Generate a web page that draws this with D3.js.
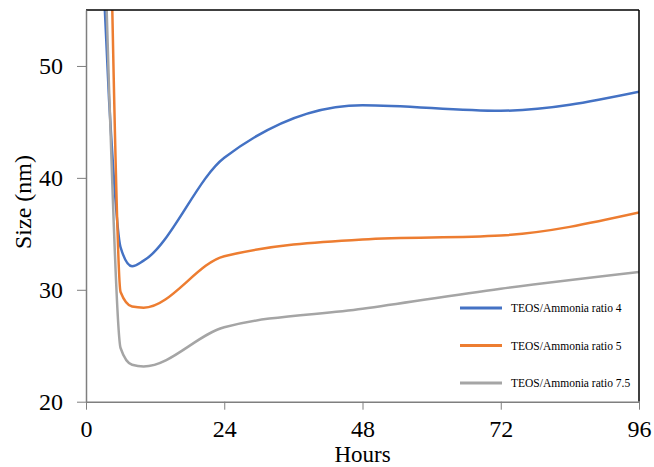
<!DOCTYPE html>
<html>
<head>
<meta charset="utf-8">
<script src="https://cdn.jsdelivr.net/npm/d3@7"></script>
<style>
  body { margin: 0; background: #fff; }
  svg { display: block; }
  text { font-family: "Liberation Serif", "Times New Roman", serif; fill: #000; }
</style>
</head>
<body>
<svg id="chart" width="654" height="467"></svg>
<script>
// Particle size over time for three TEOS/Ammonia ratios
const hours = [2, 4, 6, 8, 10, 24, 48, 72, 96];
const ratio4 = [69, 47, 33.8, 32.1, 32.6, 41.8, 46.5, 46.0, 47.7];
const ratio5 = [108, 68, 29.8, 28.5, 28.4, 33.0, 34.5, 34.85, 36.9];
const ratio75 = [82, 48, 24.8, 23.3, 23.15, 26.65, 28.3, 30.1, 31.6];
const seriesNames = ["TEOS/Ammonia ratio 4", "TEOS/Ammonia ratio 5", "TEOS/Ammonia ratio 7.5"];
const colors = ["#4472C4", "#ED7D31", "#A5A5A5"];
const xTicks = [0, 24, 48, 72, 96];
const yTicks = [20, 30, 40, 50];

const series = [ratio4, ratio5, ratio75].map((vals, i) => ({
  name: seriesNames[i],
  color: colors[i],
  points: hours.map((h, j) => ({ h, v: vals[j] }))
}));

const svg = d3.select("#chart");
const margin = { left: 86, right: 15, top: 10, bottom: 66 };
const W = 654, H = 467;
const x = d3.scaleLinear().domain([0, 96]).range([margin.left, W - margin.right]);
const y = d3.scaleLinear().domain([20, 55]).range([H - margin.bottom + 0.7, margin.top]);

svg.append("defs").append("clipPath").attr("id", "plot")
  .append("rect")
  .attr("x", x(0)).attr("y", y(55))
  .attr("width", x(96) - x(0)).attr("height", y(20) - y(55));

// Data lines, smoothed without overshoot
const line = d3.line()
  .x(d => x(d.h)).y(d => y(d.v))
  .curve(d3.curveMonotoneX);

svg.append("g").attr("clip-path", "url(#plot)")
  .selectAll("path").data(series).join("path")
  .attr("d", d => line(d.points))
  .attr("fill", "none")
  .attr("stroke", d => d.color)
  .attr("stroke-width", 2.5)
  .attr("stroke-linejoin", "round");

// Frame: top and right edges
svg.append("line")
  .attr("x1", x(0)).attr("x2", x(96))
  .attr("y1", y(55)).attr("y2", y(55))
  .attr("stroke", "#000").attr("stroke-width", 1.5);
svg.append("line")
  .attr("x1", x(96)).attr("x2", x(96))
  .attr("y1", y(55)).attr("y2", y(20))
  .attr("stroke", "#000").attr("stroke-width", 1.5);

// Axes
const xAxis = svg.append("g")
  .attr("transform", `translate(0,${y(20)})`)
  .call(d3.axisBottom(x).tickValues(xTicks).tickSize(8).tickPadding(10).tickSizeOuter(0));
const yAxis = svg.append("g")
  .attr("transform", `translate(${x(0)},0)`)
  .call(d3.axisLeft(y).tickValues(yTicks).tickSize(9).tickPadding(14).tickSizeOuter(0));

[xAxis, yAxis].forEach(g => {
  g.select(".domain").attr("stroke", "#7f7f7f").attr("stroke-width", 1.5);
  g.selectAll(".tick line").attr("stroke", "#7f7f7f").attr("stroke-width", 1);
  g.selectAll(".tick text")
    .style("font-family", '"Liberation Serif", "Times New Roman", serif')
    .style("font-size", "24px").attr("fill", "#000");
});

// Axis titles
svg.append("text")
  .attr("x", (x(0) + x(96)) / 2).attr("y", 462)
  .attr("text-anchor", "middle")
  .style("font-size", "23px")
  .text("Hours");

svg.append("text")
  .attr("transform", `translate(31,${202}) rotate(-90)`)
  .attr("text-anchor", "middle")
  .style("font-size", "24px")
  .text("Size (nm)");

// Legend
const legend = svg.append("g");
series.forEach((s, i) => {
  const ly = 308 + i * 37.5;
  legend.append("line")
    .attr("x1", 460).attr("x2", 502)
    .attr("y1", ly).attr("y2", ly)
    .attr("stroke", s.color).attr("stroke-width", 3);
  legend.append("text")
    .attr("x", 511).attr("y", ly + 4)
    .style("font-size", "11.5px")
    .text(s.name);
});
</script>
</body>
</html>
